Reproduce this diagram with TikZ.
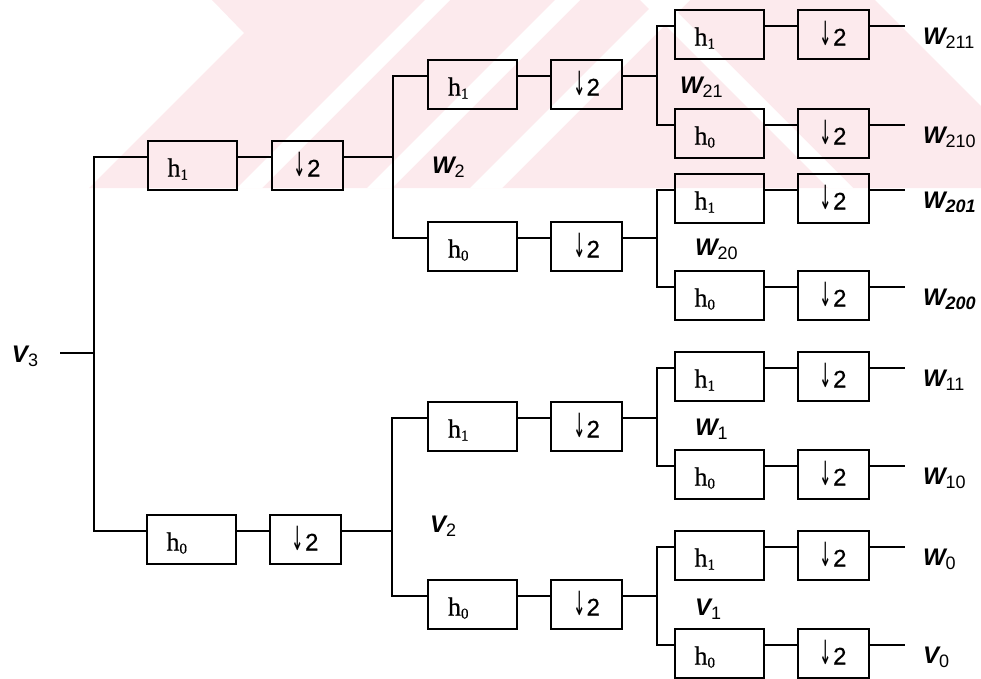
\documentclass[tikz,border=0pt]{standalone}
\usepackage{fontspec}
\setmainfont{Liberation Serif}[FakeBold=0.6]
\newfontfamily\lsans{Liberation Sans}
\newfontfamily\lsansheavy{Liberation Sans}[FakeBold=0.5]
\newfontfamily\arrowfont{DejaVu Sans}
\definecolor{wmpink}{RGB}{252,234,237}

% filter text: h with a small subscript, left-aligned in a fixed box
\newcommand{\hf}[1]{\makebox[49pt][l]{h\raisebox{-3pt}{\fontsize{15}{15}\selectfont #1}}}
% decimator text: narrow tall downward arrow and factor
\newcommand{\dn}{\scalebox{0.65}[1.45]{\arrowfont\fontsize{23}{23}\selectfont ↓}\kern1pt 2}
% signal labels: bold italic letter, upright or bold italic index
\newcommand{\wl}[2]{{\bfseries\itshape #1}\raisebox{-4pt}{\fontsize{18}{18}\selectfont #2}}
\newcommand{\wb}[2]{{\bfseries\itshape #1}\raisebox{-4pt}{\fontsize{18}{18}\selectfont\bfseries\itshape #2}}

\begin{document}
\begin{tikzpicture}[x=1pt,y=-1pt,
  every node/.style={inner sep=0pt,outer sep=0pt},
  wire/.style={line width=2pt},
  filt/.style={draw,line width=2pt,minimum width=89pt,minimum height=49pt,
    text height=25pt,text depth=2pt,font=\fontsize{26}{26}\selectfont},
  dec/.style={draw,line width=2pt,minimum width=71pt,minimum height=49pt,
    text height=25pt,text depth=2pt,font=\lsansheavy\fontsize{24}{24}\selectfont},
  sig/.style={anchor=base west,font=\lsans\fontsize{24}{24}\selectfont}]
\useasboundingbox (0,0) rectangle (981,678);

% faint background band
\begin{scope}
  \clip (0,0) rectangle (981,188);
  \fill[wmpink] (212,0) -- (244,33) -- (89,188) -- (981,188) -- (981,0) -- cycle;
  \fill[white] (425,0) -- (450,0) -- (262,188) -- (237,188) -- cycle;
  \fill[white] (555,0) -- (580,0) -- (392,188) -- (367,188) -- cycle;
  \fill[white] (658,0) -- (690,0) -- (502,188) -- (470,188) -- cycle;
  \fill[white] (640,0) -- (665,0) -- (853,188) -- (828,188) -- cycle;
  \fill[white] (875,0) -- (981,0) -- (981,106) -- cycle;
\end{scope}

% first stage
\node[filt] (t1) at (192,165) {\hf{1}};
\node[dec]  (t2) at (307,165) {\dn};
\node[filt] (u1) at (191,539) {\hf{0}};
\node[dec]  (u2) at (305,539) {\dn};

% second stage
\node[filt] (p1) at (472.5,84)  {\hf{1}};
\node[dec]  (p2) at (586.5,84)  {\dn};
\node[filt] (q1) at (472.5,246) {\hf{0}};
\node[dec]  (q2) at (586.5,246) {\dn};
\node[filt] (r1) at (472.5,426) {\hf{1}};
\node[dec]  (r2) at (586.5,426) {\dn};
\node[filt] (s1) at (472.5,604) {\hf{0}};
\node[dec]  (s2) at (586.5,604) {\dn};

% third stage with outputs
\foreach \n/\k/\yc/\lbl in {
  a/1/34/{\wl{W}{211}}, b/0/133/{\wl{W}{210}},
  c/1/198/{\wb{W}{201}}, d/0/295/{\wb{W}{200}},
  e/1/376/{\wl{W}{11}}, f/0/474/{\wl{W}{10}},
  g/1/555/{\wl{W}{0}},  h/0/653/{\wl{V}{0}}}{
  \node[filt] (\n f) at (719,\yc) {\hf{\k}};
  \node[dec]  (\n d) at (833,\yc) {\dn};
  \coordinate (\n o) at (905,\yc-8);
  \node[sig]  (\n l) at (923,\yc+10) {\lbl};
  \draw[wire] ([yshift=8pt]\n f.east) -- ([yshift=8pt]\n d.west);
  \draw[wire] ([yshift=8pt]\n d.east) -- (\n o);
}

% branch points
\coordinate (in) at (60,353);
\coordinate (j0) at (94,353);
\coordinate (jt) at (393,157);
\coordinate (ju) at (392,531);
\coordinate (jp) at (657,76);
\coordinate (jq) at (657,238);
\coordinate (jr) at (657,418);
\coordinate (js) at (657,596);

% input and first split
\draw[wire] (in) -- (j0);
\draw[wire] ([yshift=8pt]t1.west) -| (j0) |- ([yshift=8pt]u1.west);
\draw[wire] ([yshift=8pt]t1.east) -- ([yshift=8pt]t2.west);
\draw[wire] ([yshift=8pt]u1.east) -- ([yshift=8pt]u2.west);

% second split
\draw[wire] ([yshift=8pt]t2.east) -- (jt);
\draw[wire] ([yshift=8pt]p1.west) -| (jt) |- ([yshift=8pt]q1.west);
\draw[wire] ([yshift=8pt]u2.east) -- (ju);
\draw[wire] ([yshift=8pt]r1.west) -| (ju) |- ([yshift=8pt]s1.west);
\foreach \m in {p,q,r,s}
  \draw[wire] ([yshift=8pt]\m1.east) -- ([yshift=8pt]\m2.west);

% third split
\draw[wire] ([yshift=8pt]p2.east) -- (jp);
\draw[wire] ([yshift=8pt]af.west) -| (jp) |- ([yshift=8pt]bf.west);
\draw[wire] ([yshift=8pt]q2.east) -- (jq);
\draw[wire] ([yshift=8pt]cf.west) -| (jq) |- ([yshift=8pt]df.west);
\draw[wire] ([yshift=8pt]r2.east) -- (jr);
\draw[wire] ([yshift=8pt]ef.west) -| (jr) |- ([yshift=8pt]ff.west);
\draw[wire] ([yshift=8pt]s2.east) -- (js);
\draw[wire] ([yshift=8pt]gf.west) -| (js) |- ([yshift=8pt]hf.west);

% intermediate signal names
\node[sig] (v3)  at (12,362)  {\wl{V}{3}};
\node[sig] (w2)  at (432,173) {\wl{W}{2}};
\node[sig] (v2)  at (430,532) {\wl{V}{2}};
\node[sig] (w21) at (680,93)  {\wl{W}{21}};
\node[sig] (w20) at (695,255) {\wl{W}{20}};
\node[sig] (w1)  at (695,435) {\wl{W}{1}};
\node[sig] (v1)  at (695,615) {\wl{V}{1}};
\end{tikzpicture}
\end{document}
